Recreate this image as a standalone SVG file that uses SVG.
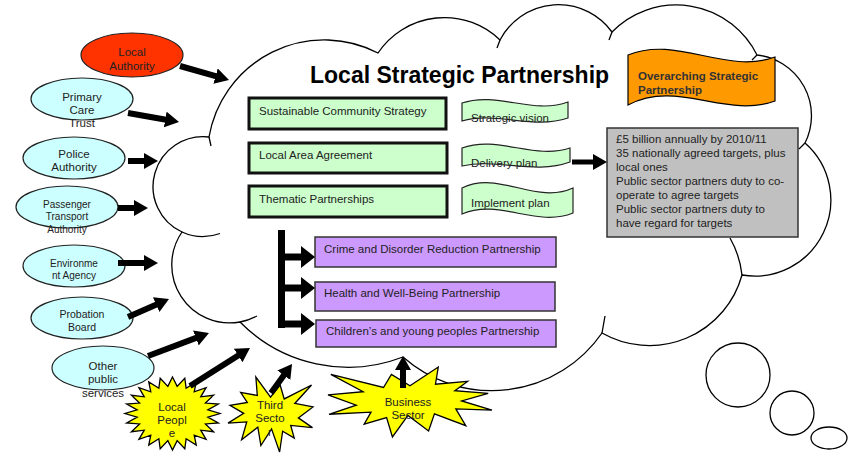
<svg xmlns="http://www.w3.org/2000/svg" width="858" height="454" viewBox="0 0 858 454">
<defs>
<style>
text{font-family:"Liberation Sans",Arial,sans-serif;fill:#222;}
.t{font-size:11.5px;}
.s{font-size:10px;}
.c{text-anchor:middle;}
.cloud{fill:#fff;stroke:#000;stroke-width:1.3;}
.tick{fill:none;stroke:#000;stroke-width:1.3;}
.ell{fill:#ccffff;stroke:#222;stroke-width:1.2;}
.gbox{fill:#ccffcc;stroke:#111;stroke-width:3;}
.wave{fill:#ccffcc;stroke:#222;stroke-width:1.2;}
.pbox{fill:#cc99ff;stroke:#333;stroke-width:1.5;}
.star{fill:#ffff00;stroke:#000;stroke-width:1.3;}
.arr{stroke:#000;stroke-width:6;fill:none;marker-end:url(#ah);}
.barr{stroke:#000;stroke-width:7;fill:none;marker-end:url(#bh);}
</style>
<marker id="ah" markerUnits="userSpaceOnUse" markerWidth="14" markerHeight="16" viewBox="0 -8 14 16" refX="1" refY="0" orient="auto"><path d="M0,-8 L14,0 L0,8 z" fill="#000"/></marker>
<marker id="bh" markerUnits="userSpaceOnUse" markerWidth="14" markerHeight="22" viewBox="0 -11 14 22" refX="1" refY="0" orient="auto"><path d="M0,-11 L14,0 L0,11 z" fill="#000"/></marker>
<polygon id="expl" points="0.5,0.2685 0.6723,0 0.6553,0.2465 0.8509,0.2063 0.7732,0.3387 0.9767,0.3767 0.8151,0.4850 1,0.6153 0.7795,0.5992 0.8401,0.8377 0.6491,0.6693 0.6133,0.9138 0.4876,0.6914 0.3928,1 0.3572,0.7235 0.2205,0.8156 0.2624,0.6452 0.0063,0.6753 0.1723,0.5451 0,0.3988 0.2142,0.3526 0.0171,0.1063 0.3385,0.2926 0.3867,0.1063" vector-effect="non-scaling-stroke"/>
</defs>

<g id="cloud">
<path class="cloud" d="M209,137 A117,117 0 0 1 378,53 A80,80 0 0 1 500,40 A66,66 0 0 1 612,32 A90,90 0 0 1 757,55 A61,61 0 0 1 805,143 A76,76 0 0 1 742,275 A96,96 0 0 1 602,333 A134,134 0 0 1 403,357 A152,152 0 0 1 240,322 A58,58 0 0 1 182,232 A50,50 0 0 1 209,137 Z"/>
<path class="tick" d="M730,238 A96,96 0 0 1 742,275 M182,232 A50,50 0 0 0 220,233.5 M240,322 A58,58 0 0 0 257,316 M500,40 L497,48 M612,32 L609,40 M805,143 L799,149 M602,333 L605,316 M209,137 L211,146 M757,55 L752,60"/>
<circle class="cloud" cx="738" cy="375" r="32"/>
<circle class="cloud" cx="792" cy="413" r="22"/>
<ellipse class="cloud" cx="829" cy="438" rx="18" ry="11"/>
</g>

<g id="title"><text x="310" y="83" style="font-size:23px;font-weight:bold;fill:#000">Local Strategic Partnership</text></g>

<g id="osp">
<path d="M628,55 C677,35 726,75 775,57 L775,101 C726,119 677,79 628,105 Z" fill="#ff9900" stroke="#000" stroke-width="1.2"/>
<text class="t" x="638" y="80" style="font-weight:bold;fill:#333">Overarching Strategic</text>
<text class="t" x="638" y="94" style="font-weight:bold;fill:#333">Partnership</text>
</g>

<g id="scs"><rect class="gbox" x="249" y="98" width="197" height="31"/><text class="t" x="259" y="115">Sustainable Community Strategy</text></g>
<g id="laa"><rect class="gbox" x="249" y="143" width="198" height="30"/><text class="t" x="259" y="159">Local Area Agreement</text></g>
<g id="tp"><rect class="gbox" x="249" y="186" width="198" height="31"/><text class="t" x="259" y="203">Thematic Partnerships</text></g>

<g id="sv"><path class="wave" d="M462,103 C497,91 533,115 568,102 L568,118 C533,130 497,111 462,121 Z"/><text class="t" x="471" y="122">Strategic vision</text></g>
<g id="dp"><path class="wave" d="M462,148 C498,135 534,160 570,148 L570,162 C534,175 498,158 462,166 Z"/><text class="t" x="471" y="167">Delivery plan</text></g>
<g id="ip"><path class="wave" d="M462,188 C499,170 536,205 573,188 L573,213 C536,228 499,198 462,214 Z"/><text class="t" x="471" y="207">Implement plan</text></g>

<g id="facts">
<rect x="607" y="128" width="191" height="109" fill="#c0c0c0" stroke="#333" stroke-width="1.5"/>
<text class="t" x="616" y="143">£5 billion annually by 2010/11</text>
<text class="t" x="616" y="157">35 nationally agreed targets, plus</text>
<text class="t" x="616" y="171">local ones</text>
<text class="t" x="616" y="185">Public sector partners duty to co-</text>
<text class="t" x="616" y="199">operate to agree targets</text>
<text class="t" x="616" y="213">Public sector partners duty to</text>
<text class="t" x="616" y="227">have regard for targets</text>
</g>

<g id="cdrp"><rect class="pbox" x="315" y="237" width="241" height="30"/><text class="t" x="324" y="253">Crime and Disorder Reduction Partnership</text></g>
<g id="hwbp"><rect class="pbox" x="315" y="282" width="240" height="29"/><text class="t" x="324" y="297">Health and Well-Being Partnership</text></g>
<g id="cypp"><rect class="pbox" x="316" y="320" width="240" height="27"/><text class="t" x="326" y="335">Children’s and young peoples Partnership</text></g>

<g id="la"><ellipse cx="132" cy="55" rx="51" ry="22" fill="#ff3300" stroke="#222" stroke-width="1.2"/><text class="t c" x="132" y="56">Local</text><text class="t c" x="132" y="70">Authority</text></g>
<g id="pct"><ellipse class="ell" cx="82" cy="99" rx="51" ry="21"/><text class="t c" x="82" y="101">Primary</text><text class="t c" x="82" y="114">Care</text><text class="t c" x="82" y="127">Trust</text></g>
<g id="pa"><ellipse class="ell" cx="74" cy="158" rx="51" ry="21"/><text class="t c" x="74" y="158">Police</text><text class="t c" x="74" y="171">Authority</text></g>
<g id="pta"><ellipse class="ell" cx="67" cy="207" rx="51" ry="21"/><text class="s c" x="67" y="207.5">Passenger</text><text class="s c" x="67" y="220">Transport</text><text class="s c" x="67" y="232.5">Authority</text></g>
<g id="ea"><ellipse class="ell" cx="74" cy="266" rx="51" ry="21"/><text class="s c" x="74" y="266.5">Environme</text><text class="s c" x="74" y="278.5">nt Agency</text></g>
<g id="pb"><ellipse class="ell" cx="82" cy="318" rx="51" ry="21"/><text class="c" x="82" y="317.5" style="font-size:10.5px">Probation</text><text class="c" x="82" y="330.5" style="font-size:10.5px">Board</text></g>
<g id="ops"><ellipse class="ell" cx="103" cy="368" rx="51" ry="22"/><text class="t c" x="103" y="370">Other</text><text class="t c" x="103" y="383">public</text><text class="t c" x="103" y="397">services</text></g>

<g id="lp">
<polygon class="star" vector-effect="non-scaling-stroke" transform="translate(172.5,413.5) scale(47.5,36.5)" points="0,-1 .098,-.744 .259,-.966 .287,-.693 .5,-.866 .457,-.595 .707,-.707 .595,-.457 .866,-.5 .693,-.287 .966,-.259 .744,-.098 1,0 .744,.098 .966,.259 .693,.287 .866,.5 .595,.457 .707,.707 .457,.595 .5,.866 .287,.693 .259,.966 .098,.744 0,1 -.098,.744 -.259,.966 -.287,.693 -.5,.866 -.457,.595 -.707,.707 -.595,.457 -.866,.5 -.693,.287 -.966,.259 -.744,.098 -1,0 -.744,-.098 -.966,-.259 -.693,-.287 -.866,-.5 -.595,-.457 -.707,-.707 -.457,-.595 -.5,-.866 -.287,-.693 -.259,-.966 -.098,-.744"/>
<text class="t c" x="172" y="411">Local</text><text class="t c" x="172" y="424">Peopl</text><text class="t c" x="172" y="437">e</text>
</g>
<g id="ts">
<use href="#expl" class="star" transform="translate(313,377) scale(-85,75)"/>
<text class="t c" x="270" y="409">Third</text><text class="t c" x="270" y="422">Secto</text><text class="t c" x="270" y="436">r</text>
</g>
<g id="bs">
<use href="#expl" class="star" transform="translate(328,367) scale(164,70)"/>
<text class="t c" x="408" y="406">Business</text><text class="t c" x="408" y="419">Sector</text>
</g>

<g id="connectors">
<line class="arr" x1="180" y1="66" x2="216.5" y2="76.4"/>
<line class="arr" x1="128" y1="113" x2="166.2" y2="119.7"/>
<line class="arr" x1="128" y1="161" x2="145" y2="161"/>
<line class="arr" x1="118" y1="208" x2="135" y2="208"/>
<line class="arr" x1="118" y1="263" x2="145" y2="263"/>
<line class="arr" x1="128" y1="317" x2="157.1" y2="304.2"/>
<line class="arr" x1="148" y1="356" x2="196.8" y2="337.6"/>
<line class="arr" x1="190" y1="386" x2="239" y2="355"/>
<line class="arr" x1="271" y1="393" x2="284.4" y2="374.5"/>
<line class="arr" x1="403" y1="388" x2="403" y2="369"/>
<line class="arr" x1="572" y1="162" x2="594" y2="162" style="stroke-width:5"/>
<rect x="278" y="230" width="7" height="98" fill="#000"/>
<line class="barr" x1="282" y1="257" x2="302" y2="257"/>
<line class="barr" x1="282" y1="288" x2="302" y2="288"/>
<line class="barr" x1="282" y1="324" x2="302" y2="324"/>
</g>
</svg>
